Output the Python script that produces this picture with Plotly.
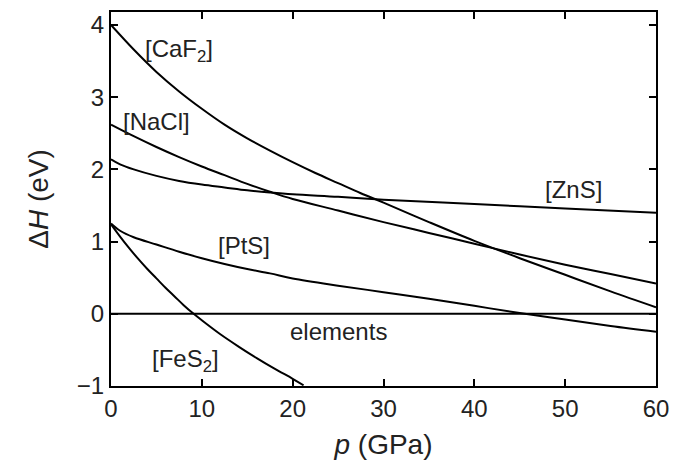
import plotly.graph_objects as go

# pressure (GPa) and enthalpy differences (eV)
p_caf2 = [0, 2.5, 5, 7.5, 10, 12.5, 15, 17.5, 20, 22.5, 25, 27.5, 30, 35, 40, 45, 50, 55, 60]
h_caf2 = [4.00, 3.66, 3.35, 3.08, 2.84, 2.62, 2.43, 2.26, 2.10, 1.95, 1.81, 1.67, 1.54, 1.27, 1.01, 0.77, 0.54, 0.31, 0.09]

p_nacl = [0, 2.5, 5, 7.5, 10, 12.5, 15, 17.5, 20, 25, 30, 35, 40, 45, 50, 55, 60]
h_nacl = [2.62, 2.46, 2.31, 2.17, 2.04, 1.92, 1.80, 1.69, 1.59, 1.43, 1.27, 1.12, 0.97, 0.82, 0.68, 0.55, 0.42]

p_zns = [0, 1, 2.5, 5, 7.5, 10, 12.5, 15, 17.5, 20, 25, 30, 40, 50, 60]
h_zns = [2.14, 2.07, 2.00, 1.91, 1.84, 1.79, 1.75, 1.71, 1.68, 1.655, 1.62, 1.58, 1.52, 1.46, 1.40]

p_pts = [0, 1, 2.5, 5, 7.5, 10, 12.5, 15, 17.5, 20, 25, 30, 35, 40, 45, 50, 55, 60]
h_pts = [1.25, 1.15, 1.06, 0.96, 0.86, 0.77, 0.69, 0.62, 0.56, 0.49, 0.39, 0.30, 0.21, 0.11, 0.01, -0.08, -0.17, -0.25]

p_fes2 = [0, 1, 2, 3, 4, 5, 6, 7, 8, 9, 10, 12, 14, 16, 18, 20, 21.2]
h_fes2 = [1.24, 1.07, 0.91, 0.76, 0.62, 0.49, 0.36, 0.24, 0.12, 0.01, -0.09, -0.28, -0.45, -0.61, -0.76, -0.90, -0.99]

p_elem = [0, 60]
h_elem = [0, 0]

labels = ["[CaF<sub>2</sub>]", "[NaCl]", "[ZnS]", "[PtS]", "[FeS<sub>2</sub>]", "elements"]
label_p = [7.5, 5.0, 50.9, 14.6, 8.2, 25.1]
label_h = [3.65, 2.67, 1.72, 0.94, -0.65, -0.25]

xticks = [0, 10, 20, 30, 40, 50, 60]
yticks = [-1, 0, 1, 2, 3, 4]

FONT = "Arial, Liberation Sans, sans-serif"

fig = go.Figure()
for xs, ys in [(p_caf2, h_caf2), (p_nacl, h_nacl), (p_zns, h_zns),
               (p_pts, h_pts), (p_fes2, h_fes2), (p_elem, h_elem)]:
    fig.add_trace(go.Scatter(x=xs, y=ys, mode="lines",
                             line=dict(color="black", width=2, shape="spline", smoothing=1),
                             showlegend=False, hoverinfo="skip"))

for t, x, y in zip(labels, label_p, label_h):
    fig.add_annotation(x=x, y=y, text=t, showarrow=False,
                       font=dict(family=FONT, size=24, color="#222"))

axis_common = dict(showline=True, linecolor="black", linewidth=2, mirror="ticks",
                   ticks="inside", ticklen=7, tickwidth=1.5, tickcolor="black",
                   showgrid=False, zeroline=False,
                   tickfont=dict(family=FONT, size=24, color="#222"))

fig.update_xaxes(range=[0, 60], tickvals=xticks,
                 title=dict(text="<i>p</i> (GPa)", font=dict(family=FONT, size=28, color="#222"), standoff=14),
                 **axis_common)
fig.update_yaxes(range=[-1, 4.18], tickvals=yticks,
                 title=dict(text="Δ<i>H</i> (eV)", font=dict(family=FONT, size=28, color="#222"), standoff=20),
                 **axis_common)

fig.update_layout(width=688, height=465, margin=dict(l=111, r=32, t=10, b=75),
                  plot_bgcolor="white", paper_bgcolor="white")

fig.write_html("out.html")
